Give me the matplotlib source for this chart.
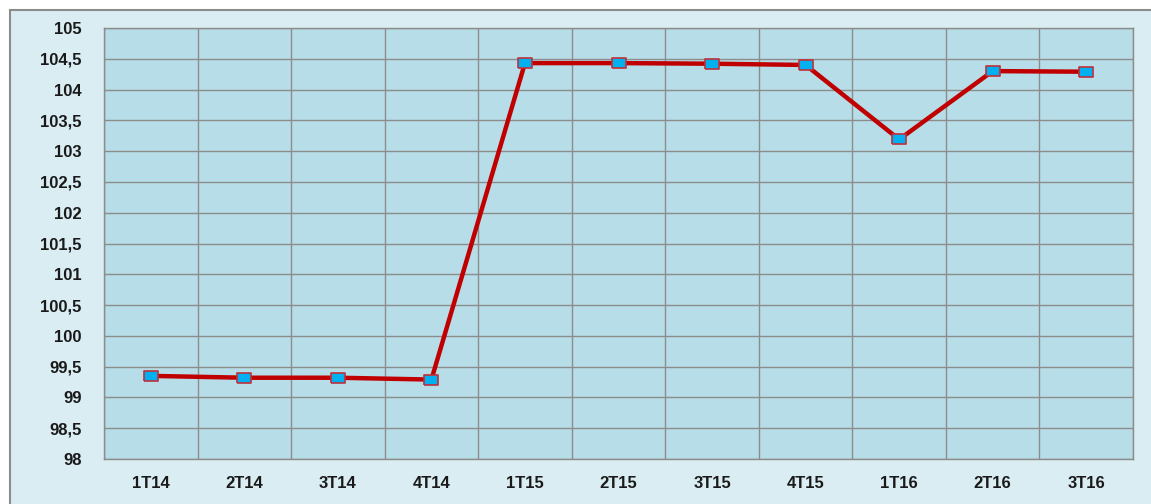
import matplotlib
matplotlib.use("Agg")
import matplotlib.pyplot as plt
from matplotlib.patches import Rectangle
from matplotlib.ticker import FuncFormatter, MultipleLocator

quarters = ['1T14', '2T14', '3T14', '4T14', '1T15', '2T15', '3T15', '4T15', '1T16', '2T16', '3T16']
values = [99.35, 99.32, 99.32, 99.29, 104.43, 104.43, 104.42, 104.40, 103.19, 104.30, 104.29]

plt.rcParams['font.family'] = ['Liberation Sans', 'DejaVu Sans']

fig = plt.figure(figsize=(11.51, 5.04), dpi=100)
fig.patch.set_facecolor('white')

# outer chart frame, kept behind the axes
frame = Rectangle((10 / 1151, -0.05), 1.1, 1 - 10 / 504 + 0.05, transform=fig.transFigure,
                  facecolor='#daedf3', edgecolor='#8c8c8c', linewidth=1.5, zorder=-10)
fig.add_artist(frame)

ax = fig.add_axes([104 / 1151, 1 - 459 / 504, (1133 - 104) / 1151, (459 - 28) / 504])
ax.set_facecolor('#b7dde8')

x = list(range(len(quarters)))
rect = [(-1.5, -1), (1.5, -1), (1.5, 1), (-1.5, 1), (-1.5, -1)]
ax.plot(x, values, color='#c00000', linewidth=3.2, marker=rect, markersize=10.5,
        markerfacecolor='#00b0f0', markeredgecolor='#c0303a', markeredgewidth=1.2, zorder=3)

ax.set_xlim(-0.5, len(quarters) - 0.5)
ax.set_ylim(98, 105)
ax.yaxis.set_major_locator(MultipleLocator(0.5))
ax.yaxis.set_major_formatter(FuncFormatter(lambda v, p: ('%g' % v).replace('.', ',')))
ax.set_xticks(x)
ax.set_xticklabels(quarters)
ax.set_xticks([i - 0.5 for i in range(len(quarters) + 1)], minor=True)

ax.grid(True, which='major', axis='y', color='#8c8c8c', linewidth=1)
ax.grid(True, which='minor', axis='x', color='#8c8c8c', linewidth=1)
ax.set_axisbelow(True)

ax.tick_params(axis='both', which='both', length=0)
ax.tick_params(axis='y', pad=16)
ax.tick_params(axis='x', pad=12)
for lab in ax.get_xticklabels() + ax.get_yticklabels():
    lab.set_fontweight('bold')
    lab.set_fontsize(12)
    lab.set_color('#1a1a1a')

for s in ax.spines.values():
    s.set_color('#8c8c8c')
    s.set_linewidth(1)

fig.savefig('out.png', dpi=100)
